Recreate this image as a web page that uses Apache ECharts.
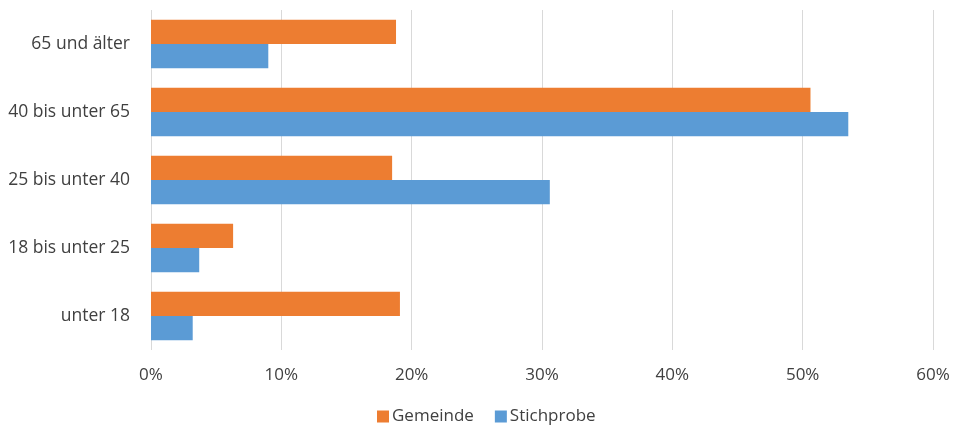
<!DOCTYPE html>
<html><head><meta charset="utf-8">
<script src="https://cdn.jsdelivr.net/npm/echarts@6/dist/echarts.min.js"></script>
<style>html,body{margin:0;padding:0;background:#fff}#c{width:953px;height:428px}</style>
</head><body><div id="c"></div>
<script>
const categories = ['unter 18', '18 bis unter 25', '25 bis unter 40', '40 bis unter 65', '65 und älter'];
const gemeinde = [19.1, 6.3, 18.5, 50.6, 18.8];
const stichprobe = [3.2, 3.7, 30.6, 53.5, 9.0];
const seriesNames = ['Gemeinde', 'Stichprobe'];
const tickValues = [0, 10, 20, 30, 40, 50, 60];

const chart = echarts.init(document.getElementById('c'));
const font = '"Open Sans", sans-serif';
const txt = '#404040';
chart.setOption({
  animation: false,
  textStyle: { fontFamily: font },
  grid: { left: 151, right: 20, top: 10, bottom: 78 },
  legend: {
    data: seriesNames, top: 403, left: 372,
    itemWidth: 12, itemHeight: 12, itemGap: 21, icon: 'rect',
    textStyle: { fontFamily: font, fontSize: 17, color: txt, padding: [0, 0, 0, -2] }
  },
  xAxis: {
    type: 'value', min: tickValues[0], max: tickValues[tickValues.length - 1], interval: 10,
    axisLabel: { formatter: '{value}%', fontSize: 17, color: txt, margin: 17 },
    splitLine: { lineStyle: { color: '#d9d9d9', width: 1 } },
    axisLine: { show: false }, axisTick: { show: false }
  },
  yAxis: {
    type: 'category', data: categories,
    axisLabel: { fontSize: 17.5, color: txt, margin: 21 },
    axisLine: { show: false }, axisTick: { show: false }
  },
  series: [
    { name: seriesNames[0], type: 'bar', data: gemeinde, itemStyle: { color: '#ED7D31' }, barGap: '0%', barCategoryGap: '29%' },
    { name: seriesNames[1], type: 'bar', data: stichprobe, itemStyle: { color: '#5B9BD5' }, barGap: '0%', barCategoryGap: '29%' }
  ]
});
</script></body></html>
